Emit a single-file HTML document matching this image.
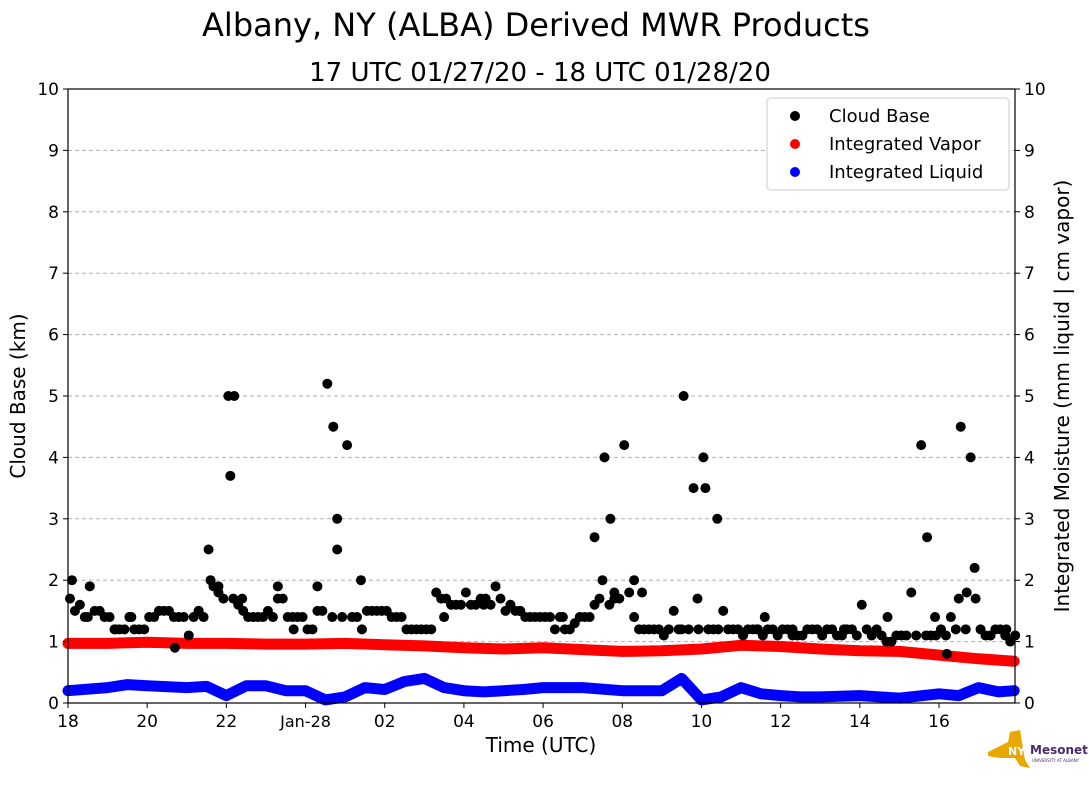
<!DOCTYPE html>
<html><head><meta charset="utf-8"><style>
body{margin:0;background:#fff;font-family:"Liberation Sans",sans-serif;}
svg text{font-family:"DejaVu Sans","Liberation Sans",sans-serif;}
</style></head><body>
<svg id="chart" width="1089" height="804" xmlns="http://www.w3.org/2000/svg">
<rect width="1089" height="804" fill="#fff"/>
<text x="536" y="36" font-size="32" text-anchor="middle">Albany, NY (ALBA) Derived MWR Products</text>
<text x="540" y="81" font-size="26" text-anchor="middle">17 UTC 01/27/20 - 18 UTC 01/28/20</text>
<g id="grid"></g><g id="marks"></g><g id="axes"></g>
<text transform="translate(25,396) rotate(-90)" font-size="20" text-anchor="middle">Cloud Base (km)</text>
<text transform="translate(1069,396) rotate(-90)" font-size="20" text-anchor="middle">Integrated Moisture (mm liquid | cm vapor)</text>
<text x="541" y="752" font-size="20" text-anchor="middle">Time (UTC)</text>
<g>
<rect x="767" y="98" width="242" height="92" rx="4" fill="#fff" stroke="#ccc"/>
<circle cx="795" cy="116" r="5" fill="#000"/><text x="829" y="122" font-size="18">Cloud Base</text>
<circle cx="795" cy="144" r="5" fill="red"/><text x="829" y="150" font-size="18">Integrated Vapor</text>
<circle cx="795" cy="172" r="5" fill="blue"/><text x="829" y="178" font-size="18">Integrated Liquid</text>
</g>
<g>
<path d="M988 752 L1008 742 L1010 732 L1020 730 L1025 760 L1030 768 L1020 766 L1015 758 L1000 758 L988 756Z" fill="#e8a800"/>
<text x="1008" y="755" font-size="11" font-weight="bold" fill="#fff">NYS</text>
<text x="1030" y="754" font-size="12" font-weight="bold" fill="#4b2a6b">Mesonet</text>
<text x="1032" y="762" font-size="4" fill="#4b2a6b">UNIVERSITY AT ALBANY</text>
</g>
</svg>
<script>
const cbVals=[1.7,1.6,1.9,1.5, 1.4,1.2,1.4,1.2, 1.4,1.5,1.5,1.4, 1.1,1.5,2.5,1.8, 5.0,1.6,1.4,1.4, 1.5,1.9,1.4,1.4,
1.2,1.9,5.2,3.0, 4.2,1.4,1.5,1.5, 1.5,1.4,1.2,1.2, 1.2,1.8,1.7,1.6, 1.8,1.6,1.7,1.9, 1.5,1.5,1.4,1.4,
1.4,1.2,1.2,1.3, 1.4,1.6,4.0,1.8, 4.2,1.4,1.2,1.2, 1.1,1.5,5.0,3.5, 4.0,1.2,1.5,1.2, 1.1,1.2,1.1,1.2,
1.2,1.2,1.1,1.2, 1.1,1.2,1.1,1.2, 1.6,1.1,1.1,1.0, 1.1,1.8,4.2,1.1, 1.2,1.4,4.5,4.0, 1.2,1.1,1.2,1.0];
const cbExtraTimes=[0.1,0.5,1.2,1.6,2.3,2.7,3.3,3.6,3.8,4.1,4.2,4.4,5.3,5.7,6.3,6.7,6.8,7.4,9.5,10.5,11.4,12.5,13.3,13.5,13.7,13.8,14.3,14.5,15.5,15.9,16.1,16.4,17.4,17.6,18.3,19.6,20.7,21.7,21.9,22.2,22.5,22.7,22.9,23.3,23.7];
const cbExtraVals=[2.0,1.4,1.2,1.4,1.5,0.9,1.5,2.0,1.9,3.7,5.0,1.7,1.7,1.2,1.5,4.5,2.5,2.0,1.4,1.6,1.5,1.4,2.7,2.0,3.0,1.7,2.0,1.8,1.2,1.7,3.5,3.0,1.2,1.4,1.1,1.2,1.4,2.7,1.4,0.8,1.7,1.8,2.2,1.1,1.2];
const cbFillVals=[1.5,1.4,1.5,1.4, 1.2,1.2,1.2,1.2, 1.4,1.5,1.4,1.4, 1.4,1.4,1.9,1.7, 1.7,1.5,1.4,1.4, 1.4,1.7,1.4,1.4,
1.2,1.5,1.4,1.4, 1.4,1.2,1.5,1.5, 1.4,1.4,1.2,1.2, 1.2,1.7,1.6,1.6, 1.6,1.7,1.6,1.7, 1.6,1.5,1.4,1.4,
1.4,1.4,1.2,1.4, 1.4,1.7,1.6,1.7, 1.8,1.2,1.2,1.2, 1.2,1.2,1.2,1.2, 1.2,1.2,1.2,1.2, 1.2,1.2,1.2,1.1,
1.2,1.1,1.2,1.2, 1.2,1.1,1.2,1.1, 1.2,1.2,1.0,1.1, 1.1,1.1,1.1,1.1, 1.1,1.2,1.2,1.7, 1.1,1.2,1.1,1.1];
const vapTimes=[0,1,2,3,4,5,6,7,8,9,10,11,12,13,14,15,16,17,18,19,20,21,22,23,23.9];
const vapVals=[0.97,0.97,0.99,0.97,0.97,0.96,0.96,0.97,0.95,0.93,0.9,0.88,0.9,0.87,0.84,0.85,0.88,0.94,0.92,0.88,0.85,0.84,0.78,0.72,0.68];
const liqTimes=[0,1,1.5,2,3,3.5,4,4.5,5,5.5,6,6.5,7,7.5,8,8.5,9,9.5,10,10.5,11,11.5,12,13,14,15,15.5,16,16.5,17,17.5,18,18.5,19,20,20.5,21,22,22.5,23,23.5,23.9];
const liqVals=[0.2,0.25,0.3,0.28,0.25,0.27,0.12,0.28,0.28,0.2,0.2,0.05,0.1,0.25,0.22,0.35,0.4,0.25,0.2,0.18,0.2,0.22,0.25,0.25,0.2,0.2,0.4,0.05,0.1,0.25,0.15,0.12,0.1,0.1,0.12,0.1,0.08,0.15,0.12,0.25,0.18,0.2];
const xTicks=[0,2,4,6,8,10,12,14,16,18,20,22];
const xLabels=["18","20","22","Jan-28","02","04","06","08","10","12","14","16"];
const yTicks=[0,1,2,3,4,5,6,7,8,9,10];
const X0=68,X1=1015,Y0=703,Y1=89,TMAX=23.92;
const xs=t=>X0+(X1-X0)*t/TMAX, ys=v=>Y0-(Y0-Y1)*v/10;
const NS="http://www.w3.org/2000/svg";
function mk(tag,attrs,parent){const e=document.createElementNS(NS,tag);for(const k in attrs)e.setAttribute(k,attrs[k]);parent.appendChild(e);return e;}
const grid=document.getElementById('grid'),marks=document.getElementById('marks'),axes=document.getElementById('axes');
yTicks.forEach(v=>{
 if(v>0&&v<10){const g=mk('line',{x1:X0,x2:X1,y1:ys(v),y2:ys(v),stroke:'#b0b0b0','stroke-dasharray':'4,3'},grid);
 
 }
 mk('line',{x1:X0-5,x2:X0,y1:ys(v),y2:ys(v),stroke:'#000'},axes);
 mk('line',{x1:X1,x2:X1+5,y1:ys(v),y2:ys(v),stroke:'#000'},axes);
 const a=mk('text',{x:X0-9,y:ys(v)+6,'font-size':17,'text-anchor':'end'},axes);a.textContent=v;
 
 
 const b=mk('text',{x:X1+9,y:ys(v)+6,'font-size':17},axes);b.textContent=v;
 
 
});
xTicks.forEach((t,i)=>{
 mk('line',{x1:xs(t),x2:xs(t),y1:Y0,y2:Y0+5,stroke:'#000'},axes);
 const a=mk('text',{x:xs(t),y:Y0+24,'font-size':i==3?16:17,'text-anchor':'middle'},axes);a.textContent=xLabels[i];
 
 
});
const fr=mk('rect',{x:X0,y:Y1,width:X1-X0,height:Y0-Y1,fill:'none',stroke:'#000','stroke-width':1.2},axes);


function series(times,vals,color,name){
 const d=times.map((t,i)=>(i?'L':'M')+xs(t).toFixed(1)+' '+ys(vals[i]).toFixed(1)).join(' ');
 const p=mk('path',{d:d,fill:'none',stroke:color,'stroke-width':11,'stroke-linecap':'round','stroke-linejoin':'round'},marks);
 
 
}
series(vapTimes,vapVals,'red','integrated-vapor');
series(liqTimes,liqVals,'blue','integrated-liquid');
cbVals.forEach((v,i)=>{const c=mk('circle',{cx:xs(i*0.25+0.05),cy:ys(v),r:5,fill:'#000'},marks);
 
 });
cbFillVals.forEach((v,i)=>{const c=mk('circle',{cx:xs(i*0.25+0.175),cy:ys(v),r:5,fill:'#000'},marks);
 
 });
cbExtraTimes.forEach((t,i)=>{const c=mk('circle',{cx:xs(t),cy:ys(cbExtraVals[i]),r:5,fill:'#000'},marks);
 
 });
</script>
</body></html>
